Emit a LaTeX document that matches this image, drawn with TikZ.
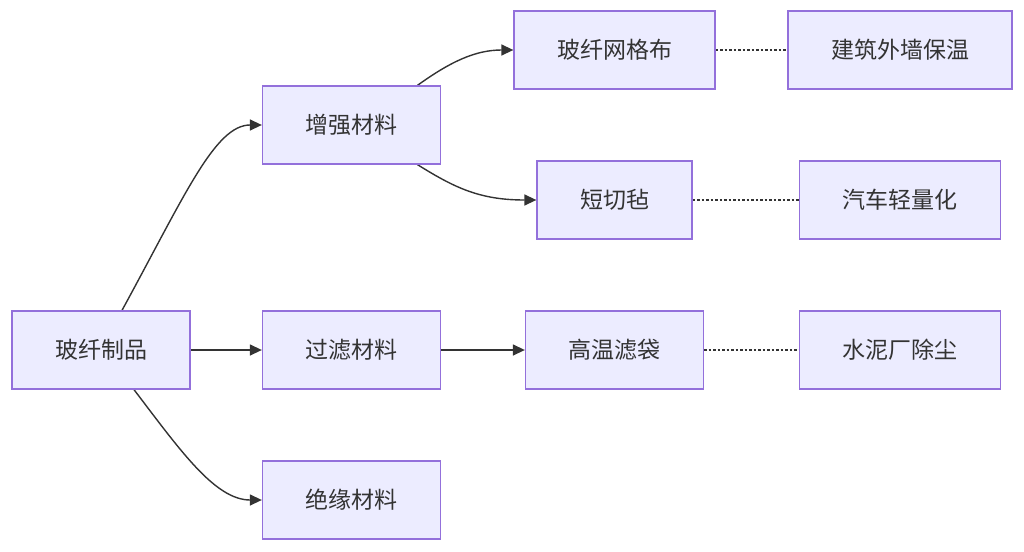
\documentclass[tikz,border=0pt]{standalone}
\usepackage{fontspec}
\setmainfont{Noto Sans CJK SC}
\usepackage{tikz}
\usetikzlibrary{arrows.meta}
\pgfdeclarelayer{edgelayer}
\pgfdeclarelayer{nodelayer}
\pgfsetlayers{edgelayer,nodelayer,main}
\definecolor{boxfill}{HTML}{ECECFF}
\definecolor{boxline}{HTML}{9370DB}
\definecolor{ink}{HTML}{333333}
\tikzstyle{item}=[rectangle, fill=boxfill, draw=boxline, line width=1.3pt, text=ink, inner xsep=43pt, inner ysep=0pt, minimum height=78pt, font=\fontsize{23}{28}\selectfont]
\tikzstyle{arrow}=[-{Triangle[length=12pt,width=11pt]}, draw=ink, line width=1.4pt]
\tikzstyle{link}=[-, draw=ink, line width=1.3pt, dash pattern=on 2.5pt off 2pt]

\begin{document}
\begin{tikzpicture}[x=1pt, y=-1pt]
            \useasboundingbox (0, 0) rectangle (1024, 551);
            \begin{pgfonlayer}{nodelayer}
                \node [style=item] (glass) at (101, 350) {玻纤制品};
                \node [style=item] (reinf) at (351.5, 125) {增强材料};
                \node [style=item] (filter) at (351.5, 350) {过滤材料};
                \node [style=item] (insul) at (351.5, 500) {绝缘材料};
                \node [style=item] (mesh) at (614.5, 50) {玻纤网格布};
                \node [style=item] (mat) at (614.5, 200) {短切毡};
                \node [style=item] (bag) at (614.5, 350) {高温滤袋};
                \node [style=item] (wall) at (900, 50) {建筑外墙保温};
                \node [style=item] (car) at (900, 200) {汽车轻量化};
                \node [style=item] (dust) at (900, 350) {水泥厂除尘};
            \end{pgfonlayer}
            \begin{pgfonlayer}{edgelayer}
                \draw [style=arrow] ([xshift=21pt]glass.north) .. controls (185, 195) and (215, 125) .. (reinf.west);
                \draw [style=arrow] (glass) to (filter);
                \draw [style=arrow] ([xshift=33pt]glass.south) .. controls (180, 450) and (215, 500) .. (insul.west);
                \draw [style=arrow] ([xshift=66pt]reinf.north) .. controls (450, 62) and (475, 50) .. (mesh.west);
                \draw [style=arrow] ([xshift=66pt]reinf.south) .. controls (455, 188) and (480, 200) .. (mat.west);
                \draw [style=arrow] (filter) to (bag);
                \draw [style=link] (mesh) to (wall);
                \draw [style=link] (mat) to (car);
                \draw [style=link] (bag) to (dust);
            \end{pgfonlayer}
        \end{tikzpicture}
\end{document}
